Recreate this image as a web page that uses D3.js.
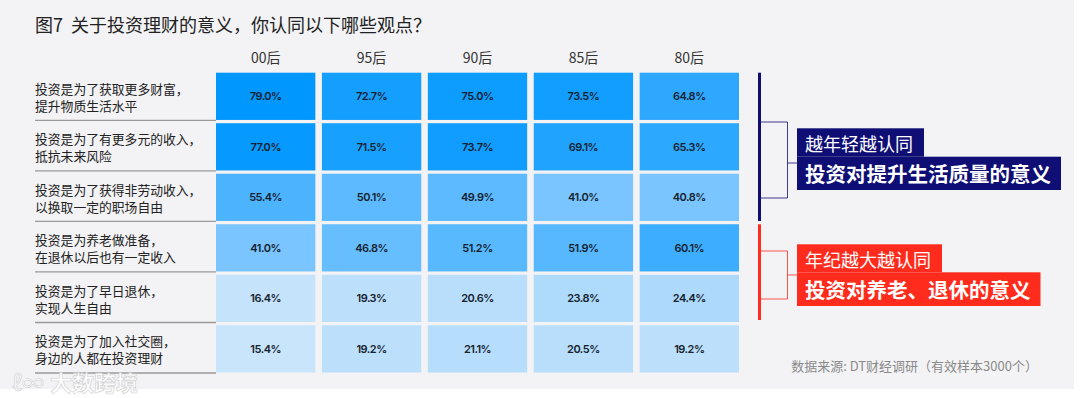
<!DOCTYPE html>
<html><head><meta charset="utf-8">
<script src="https://cdn.jsdelivr.net/npm/d3@7"></script>
<style>
html,body{margin:0;padding:0;background:#ffffff;}
svg{display:block;}
</style></head>
<body>
<svg id="chart" width="1080" height="398"></svg>
<script>
const title = "图7  关于投资理财的意义，你认同以下哪些观点？";
const generations = ["00后", "95后", "90后", "85后", "80后"];
const reasons = [
  ["投资是为了获取更多财富，", "提升物质生活水平"],
  ["投资是为了有更多元的收入，", "抵抗未来风险"],
  ["投资是为了获得非劳动收入，", "以换取一定的职场自由"],
  ["投资是为养老做准备，", "在退休以后也有一定收入"],
  ["投资是为了早日退休，", "实现人生自由"],
  ["投资是为了加入社交圈，", "身边的人都在投资理财"]
];
const values = [
  [79.0, 72.7, 75.0, 73.5, 64.8],
  [77.0, 71.5, 73.7, 69.1, 65.3],
  [55.4, 50.1, 49.9, 41.0, 40.8],
  [41.0, 46.8, 51.2, 51.9, 60.1],
  [16.4, 19.3, 20.6, 23.8, 24.4],
  [15.4, 19.2, 21.1, 20.5, 19.2]
];
const groups = [
  {from: 0, to: 2, line1: "越年轻越认同", line2: "投资对提升生活质量的意义", color: "#0e0e74"},
  {from: 3, to: 4, line1: "年纪越大越认同", line2: "投资对养老、退休的意义", color: "#ff2c1e"}
];
const source = "数据来源: DT财经调研（有效样本3000个）";
const watermark = "大数跨境";

const svg = d3.select("#chart");
const CJK = "'Noto Sans CJK SC','Noto Sans',sans-serif";

svg.append("rect").attr("x", 0).attr("y", 0).attr("width", 1074).attr("height", 389).attr("fill", "#f3f3f5");

svg.append("text").attr("x", 35).attr("y", 32).attr("font-family", CJK).attr("font-size", 18)
  .attr("fill", "#222").attr("xml:space", "preserve").style("white-space", "pre").text(title);

const x = d3.scaleBand().domain(generations).range([216, 739]).paddingInner(0.062).paddingOuter(0);
const rowIdx = d3.range(reasons.length);
const y = d3.scaleBand().domain(rowIdx).range([72.7, 372.5]).paddingInner(0.065).paddingOuter(0);
const color = d3.scaleLinear().domain([15, 41, 79]).range(["#c9e5fb", "#7ac5ff", "#0097ff"]);

// column headers
svg.append("g").selectAll("text").data(generations).join("text")
  .attr("x", d => x(d) + x.bandwidth() / 2).attr("y", 63)
  .attr("text-anchor", "middle").attr("font-family", CJK).attr("font-size", 14).attr("fill", "#333")
  .text(d => d);

// row labels + separators
const rows = svg.append("g").selectAll("g").data(rowIdx).join("g");
rows.append("text")
  .attr("font-family", CJK).attr("font-size", 12.8).attr("fill", "#222")
  .each(function(i) {
    const c = y(i) + y.bandwidth() / 2;
    d3.select(this).selectAll("tspan").data(reasons[i]).join("tspan")
      .attr("x", 35).attr("y", (d, k) => c - 2.5 + k * 17).text(d => d);
  });
rows.append("line")
  .attr("x1", 35).attr("x2", 216)
  .attr("y1", i => y(i) + y.bandwidth() + 0.5).attr("y2", i => y(i) + y.bandwidth() + 0.5)
  .attr("stroke", "#9a9a9a").attr("stroke-width", 1.3);

// cells
const cells = [];
values.forEach((r, i) => r.forEach((v, j) => cells.push({i, g: generations[j], v})));
const cg = svg.append("g").selectAll("g").data(cells).join("g");
cg.append("rect")
  .attr("x", d => x(d.g)).attr("y", d => y(d.i))
  .attr("width", x.bandwidth()).attr("height", y.bandwidth())
  .attr("fill", d => color(d.v));
cg.append("text")
  .attr("x", d => x(d.g) + x.bandwidth() / 2).attr("y", d => y(d.i) + y.bandwidth() / 2 + 4)
  .attr("text-anchor", "middle").attr("font-family", "Inter,'Noto Sans',sans-serif")
  .attr("font-size", 11).attr("font-weight", 600).attr("letter-spacing", -0.5).attr("fill", "#16222e")
  .text(d => d.v.toFixed(1) + "%");

// annotations
const lineX = 759.5, brX = 787.5, boxX = 797;
const brackets = [
  {top: 122, bot: 198, mid: 163, b1: 128.3, h1: 28.4, h2: 33.3},
  {top: 251, bot: 299, mid: 275, b1: 244.3, h1: 28, h2: 33.7}
];
groups.forEach((gr, k) => {
  const b = brackets[k];
  const ga = svg.append("g");
  ga.append("rect").attr("x", lineX - 1.5).attr("width", 3)
    .attr("y", y(gr.from)).attr("height", y(gr.to) + y.bandwidth() - y(gr.from) - (k === 0 ? 0 : 2))
    .attr("fill", gr.color);
  ga.append("path")
    .attr("d", `M${lineX},${b.top}H${brX}V${b.bot}H${lineX}M${brX},${b.mid}H${boxX}`)
    .attr("fill", "none").attr("stroke", gr.color).attr("stroke-width", 1).attr("opacity", 0.8);
  const r1 = ga.append("rect").attr("x", boxX).attr("y", b.b1).attr("height", b.h1).attr("fill", gr.color);
  const r2 = ga.append("rect").attr("x", boxX).attr("y", b.b1 + b.h1).attr("height", b.h2).attr("fill", gr.color);
  const t1 = ga.append("text").attr("x", boxX + 8).attr("y", b.b1 + b.h1 - 5.5)
    .attr("font-family", CJK).attr("font-size", 18).attr("fill", "#fff").text(gr.line1);
  const t2 = ga.append("text").attr("x", boxX + 8).attr("y", b.b1 + b.h1 + b.h2 - 8.5)
    .attr("font-family", CJK).attr("font-size", 20.5).attr("font-weight", 700).attr("fill", "#fff").text(gr.line2);
  r1.attr("width", t1.node().getComputedTextLength() + 19);
  r2.attr("width", t2.node().getComputedTextLength() + 18);
});

// source
svg.append("text").attr("x", 1038).attr("y", 371).attr("text-anchor", "end")
  .attr("font-family", CJK).attr("font-size", 13).attr("fill", "#8a8a8a").text(source);

// watermark
const wm = svg.append("g").attr("opacity", 0.85);
wm.append("text").attr("x", 12).attr("y", 391).attr("font-family", CJK).attr("font-size", 22)
  .attr("fill", "#ffffff").attr("stroke", "#c8c8c8").attr("stroke-width", 0.6).text("ℓ∞");
wm.append("text").attr("x", 50).attr("y", 391).attr("font-family", CJK).attr("font-size", 22)
  .attr("font-weight", 700).attr("fill", "#ffffff").attr("stroke", "#c8c8c8").attr("stroke-width", 0.6).text(watermark);
</script>
</body></html>
